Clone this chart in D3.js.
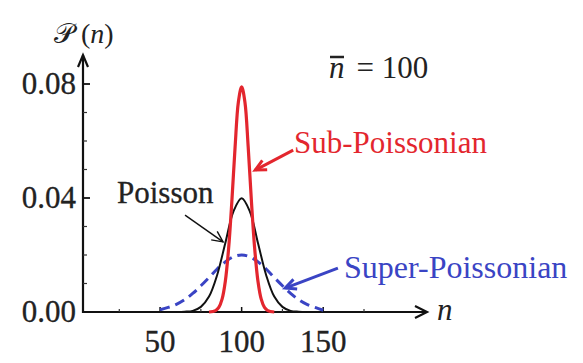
<!DOCTYPE html>
<html>
<head>
<meta charset="utf-8">
<script src="https://cdn.jsdelivr.net/npm/d3@7"></script>
<style>
  body { margin: 0; background: #fff; }
</style>
</head>
<body>
<svg id="chart"></svg>
<script>
const width = 583;
const height = 363;

// tick values
const xTicks = [50, 100, 150];
const xMinor = [25, 75, 125, 175];
const yTicks = [0, 0.04, 0.08];
const yMinor = [0.01, 0.02, 0.03, 0.05, 0.06, 0.07];

// Poisson (black)
const poissonN = [60, 65, 70, 75, 80, 85, 90, 95, 100, 105, 110, 115, 120, 125, 130, 135, 140];
const poissonP = [0, 0.0001, 0.0004, 0.0018, 0.0054, 0.0130, 0.0242, 0.0353, 0.0399, 0.0353, 0.0242, 0.0130, 0.0054, 0.0018, 0.0004, 0.0001, 0];

// Sub-Poissonian (red)
const subN = [80, 84, 86, 88, 90, 92, 94, 96, 98, 100, 102, 104, 106, 108, 110, 112, 114, 116, 120];
const subP = [0, 0.0005, 0.0016, 0.0045, 0.0108, 0.0222, 0.0388, 0.0580, 0.0737, 0.0790, 0.0737, 0.0580, 0.0388, 0.0222, 0.0108, 0.0045, 0.0016, 0.0005, 0];

// Super-Poissonian (blue, dashed)
const superN = [50, 55, 60, 65, 70, 75, 80, 85, 90, 95, 100, 105, 110, 115, 120, 125, 130, 135, 140, 145, 150];
const superP = [0.0008, 0.0016, 0.0027, 0.0043, 0.0065, 0.0092, 0.0121, 0.0151, 0.0176, 0.0194, 0.0200, 0.0194, 0.0176, 0.0151, 0.0121, 0.0092, 0.0065, 0.0043, 0.0027, 0.0016, 0.0006];

const svg = d3.select("#chart").attr("width", width).attr("height", height);

const x = d3.scaleLinear().domain([0, 213]).range([78.5, 426]);
const y = d3.scaleLinear().domain([0, 0.08]).range([312, 84]);
const axisX = 83;
const axisTop = 55;
const axisRight = 427;

const red = "#e3262e";
const blue = "#3a44c4";
const serif = "Liberation Serif";

// axes lines
svg.append("line").attr("x1", axisX).attr("x2", axisX).attr("y1", y(0) + 1).attr("y2", axisTop)
   .attr("stroke", "#111").attr("stroke-width", 2.2);
svg.append("line").attr("x1", axisX).attr("x2", axisRight).attr("y1", y(0)).attr("y2", y(0))
   .attr("stroke", "#111").attr("stroke-width", 2.2);
// arrow heads
svg.append("path").attr("d", `M${axisX - 5},${axisTop + 12}L${axisX},${axisTop}L${axisX + 5},${axisTop + 12}`)
   .attr("fill", "none").attr("stroke", "#111").attr("stroke-width", 2.2);
svg.append("path").attr("d", `M${axisRight - 12},${y(0) - 6}L${axisRight},${y(0)}L${axisRight - 12},${y(0) + 6}`)
   .attr("fill", "none").attr("stroke", "#111").attr("stroke-width", 2.2);

// y ticks
svg.selectAll(".ytick").data(yTicks.filter(d => d > 0)).enter().append("line")
   .attr("x1", axisX).attr("x2", axisX + 7).attr("y1", d => y(d)).attr("y2", d => y(d))
   .attr("stroke", "#111").attr("stroke-width", 1.8);
svg.selectAll(".yminor").data(yMinor).enter().append("line")
   .attr("x1", axisX).attr("x2", axisX + 4).attr("y1", d => y(d)).attr("y2", d => y(d))
   .attr("stroke", "#333").attr("stroke-width", 1.2);
svg.selectAll(".ylabel").data(yTicks).enter().append("text")
   .attr("x", axisX - 7).attr("y", d => y(d) + 10)
   .attr("text-anchor", "end").attr("font-size", 31).attr("font-family", serif)
   .attr("fill", "#222").attr("stroke", "#222").attr("stroke-width", 0.3)
   .text(d => d3.format(".2f")(d));

// x ticks
svg.selectAll(".xtick").data(xTicks).enter().append("line")
   .attr("x1", d => x(d)).attr("x2", d => x(d)).attr("y1", y(0)).attr("y2", y(0) - 5)
   .attr("stroke", "#111").attr("stroke-width", 1.5);
svg.selectAll(".xminor").data(xMinor).enter().append("line")
   .attr("x1", d => x(d)).attr("x2", d => x(d)).attr("y1", y(0)).attr("y2", y(0) - 3)
   .attr("stroke", "#333").attr("stroke-width", 1.2);
svg.selectAll(".xlabel").data(xTicks).enter().append("text")
   .attr("x", d => x(d)).attr("y", 352)
   .attr("text-anchor", "middle").attr("font-size", 31).attr("font-family", serif)
   .attr("fill", "#222").attr("stroke", "#222").attr("stroke-width", 0.3)
   .text(d => d);

// curves
const line = d3.line().x(d => x(d[0])).y(d => y(d[1])).curve(d3.curveCatmullRom);

svg.append("path").datum(d3.zip(superN, superP)).attr("d", line)
   .attr("fill", "none").attr("stroke", blue).attr("stroke-width", 3)
   .attr("stroke-dasharray", "10,6");
svg.append("path").datum(d3.zip(poissonN, poissonP)).attr("d", line)
   .attr("fill", "none").attr("stroke", "#111").attr("stroke-width", 2);
svg.append("path").datum(d3.zip(subN, subP)).attr("d", line)
   .attr("fill", "none").attr("stroke", red).attr("stroke-width", 3.2);

// annotation arrows: [tailN, tailP, tipN, tipP]
function arrow(a, color, w) {
  const x1 = x(a[0]), y1 = y(a[1]), x2 = x(a[2]), y2 = y(a[3]);
  const ang = Math.atan2(y2 - y1, x2 - x1);
  const L = 12, spread = 0.45;
  svg.append("line").attr("x1", x1).attr("y1", y1).attr("x2", x2).attr("y2", y2)
     .attr("stroke", color).attr("stroke-width", w);
  svg.append("path")
     .attr("d", `M${x2 - L * Math.cos(ang - spread)},${y2 - L * Math.sin(ang - spread)}L${x2},${y2}L${x2 - L * Math.cos(ang + spread)},${y2 - L * Math.sin(ang + spread)}`)
     .attr("fill", "none").attr("stroke", color).attr("stroke-width", w);
}
arrow([65.3, 0.034, 88.6, 0.0246], "#111", 1.4);
arrow([131.6, 0.0568, 108.3, 0.0498], red, 3);
arrow([159, 0.0154, 126.7, 0.0084], blue, 3);

// labels
svg.append("text").attr("x", 117).attr("y", 203).attr("font-size", 31).attr("font-family", serif)
   .attr("fill", "#222").attr("stroke", "#222").attr("stroke-width", 0.3).text("Poisson");
svg.append("text").attr("x", 294).attr("y", 153).attr("font-size", 31).attr("font-family", serif)
   .attr("fill", red).text("Sub-Poissonian");
svg.append("text").attr("x", 344).attr("y", 278).attr("font-size", 32).attr("font-family", serif)
   .attr("fill", blue).text("Super-Poissonian");

const pl = svg.append("text").attr("x", 54).attr("y", 43).attr("font-size", 28).attr("fill", "#222")
   .attr("font-family", serif);
pl.append("tspan").text("𝒫 (");
pl.append("tspan").attr("font-style", "italic").text("n");
pl.append("tspan").text(")");

svg.append("text").attr("x", 437).attr("y", 320).attr("font-size", 31).attr("font-style", "italic")
   .attr("font-family", serif).attr("fill", "#222").text("n");

const nb = svg.append("text").attr("x", 329).attr("y", 78).attr("font-size", 31).attr("fill", "#222")
   .attr("font-family", serif);
nb.append("tspan").attr("font-style", "italic").text("n");
nb.append("tspan").attr("dx", 12).text("= 100");
svg.append("line").attr("x1", 330).attr("x2", 344).attr("y1", 57).attr("y2", 57)
   .attr("stroke", "#222").attr("stroke-width", 2.5);
</script>
</body>
</html>
